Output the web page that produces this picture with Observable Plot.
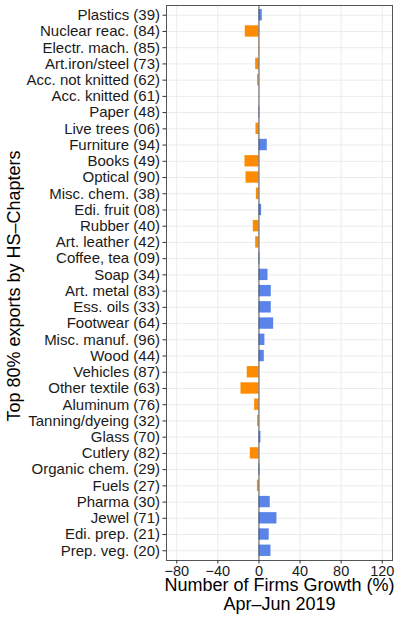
<!DOCTYPE html>
<html>
<head>
<meta charset="utf-8">
<script src="https://cdn.jsdelivr.net/npm/d3@7"></script>
<script src="https://cdn.jsdelivr.net/npm/@observablehq/plot@0.6"></script>
<style>
  html, body { margin: 0; padding: 0; background: #fff; overflow: hidden; }
  #chart svg { display: block; }
</style>
</head>
<body>
<div id="chart"></div>
<script>
const categories = [
  "Plastics (39)", "Nuclear reac. (84)", "Electr. mach. (85)", "Art.iron/steel (73)",
  "Acc. not knitted (62)", "Acc. knitted (61)", "Paper (48)", "Live trees (06)",
  "Furniture (94)", "Books (49)", "Optical (90)", "Misc. chem. (38)",
  "Edi. fruit (08)", "Rubber (40)", "Art. leather (42)", "Coffee, tea (09)",
  "Soap (34)", "Art. metal (83)", "Ess. oils (33)", "Footwear (64)",
  "Misc. manuf. (96)", "Wood (44)", "Vehicles (87)", "Other textile (63)",
  "Aluminum (76)", "Tanning/dyeing (32)", "Glass (70)", "Cutlery (82)",
  "Organic chem. (29)", "Fuels (27)", "Pharma (30)", "Jewel (71)",
  "Edi. prep. (21)", "Prep. veg. (20)"
];
const growth = [
  3.2, -13.3, -0.3, -3.2,
  -1.3, 0, 0.8, -2.9,
  8.1, -13.6, -12.6, -2.5,
  2.6, -5.5, -3.2, 1.0,
  8.8, 12.0, 12.0, 14.3,
  5.8, 5.2, -11.4, -17.5,
  -4.2, -1.3, 1.9, -8.4,
  1.0, -1.5, 11.0, 17.5,
  10.0, 11.7
];
const xTicks = [-80, -40, 0, 40, 80, 120];
const xTitle = "Number of Firms Growth (%)";
const xSubtitle = "Apr\u2013Jun 2019";
const yTitle = "Top 80% exports by HS\u2013Chapters";

const data = categories.map((c, i) => ({cat: c, value: growth[i]}));

const chart = Plot.plot({
  width: 399,
  height: 626,
  marginLeft: 166,
  marginRight: 7,
  marginTop: 5,
  marginBottom: 66,
  style: {fontFamily: "'Liberation Sans', Arial, Helvetica, sans-serif", fontSize: "15px", color: "#1a1a1a", background: "#fff"},
  x: {domain: [-90, 130]},
  y: {type: "band", domain: categories, paddingInner: 0.3, paddingOuter: 0.25, round: false},
  marks: [
    Plot.gridX({ticks: xTicks, stroke: "#ebebeb", strokeOpacity: 1}),
    Plot.gridY({stroke: "#ebebeb", strokeOpacity: 1}),
    Plot.barX(data, {filter: d => d.value < 0, x: "value", y: "cat", fill: "#FF8C00"}),
    Plot.barX(data, {filter: d => d.value >= 0, x: "value", y: "cat", fill: "#5B84E8"}),
    Plot.ruleX([0], {stroke: "#555", strokeWidth: 1}),
    Plot.frame({stroke: "#555", strokeWidth: 1}),
    Plot.axisX({ticks: xTicks, tickSize: 3.5, tickPadding: 1.5, label: null, fontSize: 14.5, stroke: "#333"}),
    Plot.axisY({tickSize: 3.5, tickPadding: 3, label: null, fontSize: 15, stroke: "#333"}),
    Plot.text([xTitle], {frameAnchor: "bottom", dy: 30.5, fontSize: 18, fill: "#000"}),
    Plot.text([xSubtitle], {frameAnchor: "bottom", dy: 49.5, fontSize: 18, fill: "#000"}),
    Plot.text([yTitle], {frameAnchor: "left", textAnchor: "middle", dx: -152, dy: 3, rotate: -90, fontSize: 18, fill: "#000"})
  ]
});
document.getElementById("chart").append(chart);
</script>
</body>
</html>
